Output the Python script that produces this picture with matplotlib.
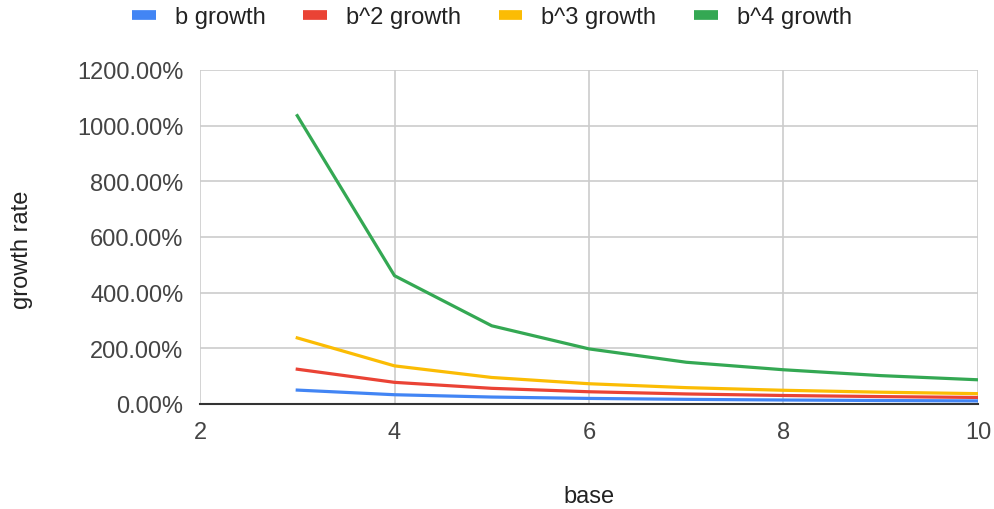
import matplotlib
matplotlib.use("Agg")
import matplotlib.pyplot as plt
from matplotlib.lines import Line2D
from matplotlib.ticker import FuncFormatter

plt.rcParams['font.family'] = ['Liberation Sans', 'DejaVu Sans']

bases = [3, 4, 5, 6, 7, 8, 9, 10]
b_growth = [50.0, 33.3, 25.0, 20.0, 16.7, 14.3, 12.5, 11.1]
b2_growth = [125.0, 77.8, 56.3, 44.0, 36.1, 30.6, 26.6, 23.5]
b3_growth = [237.5, 137.0, 95.3, 72.8, 58.8, 49.3, 42.4, 37.2]
b4_growth = [1036.0, 461.0, 281.0, 198.0, 150.0, 123.0, 102.0, 87.0]

series = [
    ("b growth", b_growth, "#4285F4"),
    ("b^2 growth", b2_growth, "#EA4335"),
    ("b^3 growth", b3_growth, "#FBBC04"),
    ("b^4 growth", b4_growth, "#34A853"),
]

x_ticks = [2, 4, 6, 8, 10]
y_ticks = [0, 200, 400, 600, 800, 1000, 1200]

W, H = 995, 510
fig = plt.figure(figsize=(W / 100, H / 100), dpi=100)
ax = fig.add_axes([200 / W, 1 - 405 / H, (978 - 200) / W, (405 - 71) / H])

for name, vals, color in series:
    ax.plot(bases, vals, color=color, lw=2.3, label=name, solid_joinstyle='round')

ax.set_xlim(2, 10)
ax.set_ylim(0, 1200)
ax.set_xticks(x_ticks)
ax.set_yticks(y_ticks)
ax.yaxis.set_major_formatter(FuncFormatter(lambda v, p: f"{v:.2f}%"))
ax.grid(True, color="#cccccc", lw=1.2)
ax.set_axisbelow(True)
for side in ("top", "left", "right"):
    ax.spines[side].set_visible(False)
ax.spines["bottom"].set_color("#333333")
ax.spines["bottom"].set_linewidth(1.5)
ax.spines["bottom"].set_zorder(5)
ax.tick_params(axis="both", length=0, labelsize=17, colors="#444444")
ax.tick_params(axis="y", pad=12)
ax.tick_params(axis="x", pad=12)

fig.text(589 / W, 1 - 497 / H, "base", ha="center", va="center", fontsize=17, color="#222222")
fig.text(22 / W, 1 - 250 / H, "growth rate", ha="center", va="center", rotation=90,
         fontsize=17, color="#222222")

handles = [Line2D([], [], color=c, lw=7, solid_capstyle='butt') for _, _, c in series]
fig.legend(handles, [n for n, _, _ in series], loc="center", ncol=4,
           bbox_to_anchor=(492 / W, 1 - 18 / H), frameon=False, fontsize=17,
           handlelength=1.0, handletextpad=0.8, columnspacing=1.6,
           labelcolor="#222222")

fig.savefig("out.png", dpi=100, facecolor="white")
